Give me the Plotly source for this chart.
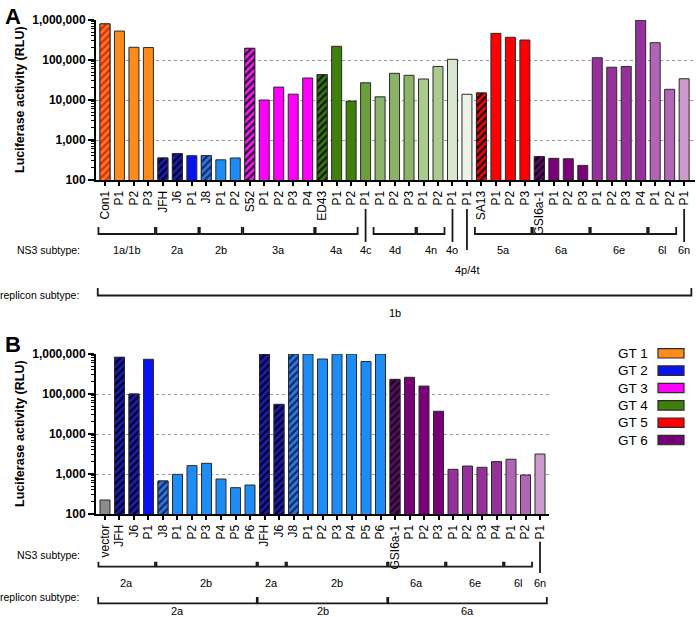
import plotly.graph_objects as go

W, H = 696, 617

# ---------------- data ----------------
a_labels = ["Con1", "P1", "P2", "P3",
            "JFH", "J6", "P1",
            "J8", "P1", "P2",
            "S52", "P1", "P2", "P3", "P4",
            "ED43", "P1", "P2",
            "P1",
            "P1", "P2", "P3",
            "P1", "P2",
            "P1",
            "P1",
            "SA13", "P1", "P2", "P3",
            "GSI6a-1", "P1", "P2", "P3",
            "P1", "P2", "P3", "P4",
            "P1", "P2",
            "P1"]
a_values = [800000, 530000, 208000, 205000,
            355, 454, 405,
            405, 320, 355,
            196000, 10000, 21000, 14000, 35500,
            43000, 220000, 9400,
            27000,
            12000, 46500, 41500,
            33500, 69000,
            104000,
            13900,
            15000, 464000, 370000, 316000,
            383, 348, 340, 232,
            114000, 66000, 69000, 1000000,
            271000, 18500,
            34000]
a_ns3 = [("1a/1b", 4), ("2a", 3), ("2b", 3), ("3a", 5), ("4a", 3), ("4c", 1),
         ("4d", 3), ("4n", 2), ("4o", 1), ("4p/4t", 1), ("5a", 4), ("6a", 4),
         ("6e", 4), ("6l", 2), ("6n", 1)]
a_replicon = [("1b", 41)]

b_labels = ["vector", "JFH", "J6", "P1",
            "J8", "P1", "P2", "P3", "P4", "P5", "P6",
            "JFH", "J6",
            "J8", "P1", "P2", "P3", "P4", "P5", "P6",
            "GSI6a-1", "P1", "P2", "P3",
            "P1", "P2", "P3", "P4",
            "P1", "P2",
            "P1"]
b_values = [224, 826000, 100000, 740000,
            668, 980, 1620, 1850, 750, 455, 530,
            1000000, 55000,
            1000000, 1000000, 750000, 1000000, 1000000, 650000, 1000000,
            232000, 262000, 158000, 37000,
            1310, 1585, 1470, 2040,
            2340, 945,
            3160]
b_ns3 = [("2a", 4), ("2b", 7), ("2a", 2), ("2b", 7), ("6a", 4), ("6e", 4),
         ("6l", 2), ("6n", 1)]
b_replicon = [("2a", 11), ("2b", 9), ("6a", 11)]

tick_vals = [100, 1000, 10000, 100000, 1000000]
tick_text = ["100", "1,000", "10,000", "100,000", "1,000,000"]

legend_labels = ["GT 1", "GT 2", "GT 3", "GT 4", "GT 5", "GT 6"]

# ---------------- styles ----------------
subtype_color = {
    "1a/1b": "#FF8C1A", "2a": "#0A12F0", "2b": "#1E8CF5", "3a": "#FF00FF",
    "4a": "#3F7F0B", "4c": "#6B9E3C", "4d": "#8CB468", "4n": "#AACA8E",
    "4o": "#DAE7CF", "4p/4t": "#EEF3EA", "5a": "#FF0000", "6a": "#7A007A",
    "6e": "#96309A", "6l": "#B066B4", "6n": "#CC9ACC",
}
ref_style = {  # reference strains: (background, stripe colour)
    "Con1": ("#FF7A1C", "#E0280C"), "JFH": ("#1C1CA6", "#000030"),
    "J6": ("#1C1CA6", "#000030"), "J8": ("#3078DC", "#0C2A6A"),
    "S52": ("#F020F0", "#300030"), "ED43": ("#3A7510", "#0C1C00"),
    "SA13": ("#E80A0A", "#200000"), "GSI6a-1": ("#5C0A64", "#140014"),
}
vector_color = "#8C8C8C"
legend_colors = ["#FF8C1A", "#0A12F0", "#FF00FF", "#3F7F0B", "#FF0000", "#750075"]

FONT = "Liberation Sans, Arial, sans-serif"
EDGE = dict(color="#2a2a2a", width=1)


def py(px):
    return 1 - px / H


def px_x(px):
    return px / W


fig = go.Figure()


def add_panel(labels, values, groups, xa, ya):
    subs = []
    for name, n in groups:
        subs += [name] * n
    colors = []
    hx, hy, hbg, hfg = [], [], [], []
    for i, (lab, sub, v) in enumerate(zip(labels, subs, values)):
        if lab == "vector":
            colors.append(vector_color)
        elif lab in ref_style:
            bg, fg = ref_style[lab]
            colors.append(bg)
            hx.append(i); hy.append(v); hbg.append(bg); hfg.append(fg)
        else:
            colors.append(subtype_color[sub])
    # solid bars
    fig.add_trace(go.Bar(
        x=list(range(len(labels))), y=values, xaxis=xa, yaxis=ya,
        marker=dict(color=colors, line=EDGE),
        showlegend=False, hoverinfo="skip"))
    # hatched reference-strain bars drawn on top
    fig.add_trace(go.Bar(
        x=hx, y=hy, xaxis=xa, yaxis=ya,
        marker=dict(color=hbg[0], line=EDGE,
                    pattern=dict(shape="/", bgcolor=hbg, fgcolor=hfg,
                                 fgopacity=1, fillmode="replace",
                                 size=5, solidity=0.45)),
        showlegend=False, hoverinfo="skip"))


add_panel(a_labels, a_values, a_ns3, "x", "y")
add_panel(b_labels, b_values, b_ns3, "x2", "y2")

common_x = dict(showline=True, linecolor="black", linewidth=2, ticks="outside",
                ticklen=4, tickwidth=1.5, tickcolor="black", tickangle=-90,
                tickfont=dict(family=FONT, size=12, color="black"),
                showgrid=False, zeroline=False, tickmode="array", automargin=False)
common_y = dict(type="log", range=[2, 6.0005], showline=True, linecolor="black",
                linewidth=2, ticks="outside", ticklen=6, tickwidth=1.5,
                tickcolor="black", tickmode="array", tickvals=tick_vals,
                ticktext=tick_text, automargin=False,
                tickfont=dict(family=FONT, size=12, color="black", weight="bold"),
                showgrid=True, gridcolor="#9a9a9a", griddash="dot", gridwidth=1,
                zeroline=False,
                minor=dict(ticks="outside", ticklen=3, tickwidth=1,
                           tickcolor="black", dtick="D1", showgrid=False))

fig.update_layout(
    template="none",
    width=W, height=H, margin=dict(l=0, r=0, t=0, b=0, autoexpand=False),
    font=dict(family=FONT, color="black"),
    paper_bgcolor="white", plot_bgcolor="white", bargap=0.31, barmode="overlay",
    xaxis=dict(common_x, domain=[px_x(96), px_x(695)], range=[-0.62, 40.75],
               anchor="y", tickvals=list(range(len(a_labels))), ticktext=a_labels),
    yaxis=dict(common_y, domain=[py(180), py(20)], anchor="x"),
    xaxis2=dict(common_x, domain=[px_x(96), px_x(549)], range=[-0.62, 30.62],
                anchor="y2", tickvals=list(range(len(b_labels))), ticktext=b_labels),
    yaxis2=dict(common_y, domain=[py(514), py(354)], anchor="x2"),
)

shapes = []
annots = []
LW = 1.8
LC = "#1a1a1a"


def text(x, y, s, xref="paper", size=11, xanchor="center", yanchor="middle",
         weight="normal", angle=0):
    annots.append(dict(x=x, y=y, xref=xref, yref="paper", text=s, showarrow=False,
                       xanchor=xanchor, yanchor=yanchor, textangle=angle,
                       font=dict(family=FONT, size=size, color="black", weight=weight)))


def brackets(groups, xref, y_line, y_top, y_label, v_top, v_bot, special=None,
             pad=0.45):
    special = special or {}
    i = 0
    for name, n in groups:
        i0, i1 = i, i + n - 1
        if n == 1:
            bot = v_bot + special.get(name, 0)
            shapes.append(dict(type="line", xref=xref, yref="paper", x0=i0, x1=i0,
                               y0=py(v_top), y1=py(bot),
                               line=dict(color=LC, width=LW)))
            text(i0, py(y_label + special.get(name, 0) * 2.5), name, xref=xref)
        else:
            a, b = i0 - pad, i1 + pad
            shapes.append(dict(type="path", xref=xref, yref="paper",
                               path=f"M {a},{py(y_top)} L {a},{py(y_line)} L {b},{py(y_line)} L {b},{py(y_top)}",
                               line=dict(color=LC, width=LW)))
            text((i0 + i1) / 2, py(y_label), name, xref=xref)
        i += n


def rep_brackets(groups, xref, y_line, y_top, y_label, pad=0.5):
    i = 0
    for name, n in groups:
        a, b = i - pad, i + n - 1 + pad
        shapes.append(dict(type="path", xref=xref, yref="paper",
                           path=f"M {a},{py(y_top)} L {a},{py(y_line)} L {b},{py(y_line)} L {b},{py(y_top)}",
                           line=dict(color=LC, width=LW)))
        text(i + (n - 1) / 2, py(y_label), name, xref=xref)
        i += n


# Panel A annotations
brackets(a_ns3, "x", 234, 227, 250, 209, 242, special={"4p/4t": 8})
rep_brackets(a_replicon, "x", 295.5, 288, 312.5)
text(px_x(82), py(250), "NS3 subtype:", size=10.5, xanchor="right")
text(px_x(81), py(295), "replicon subtype:", size=10.5, xanchor="right")
text(px_x(20), py(100), "Luciferase activity (RLU)", size=12.5, weight="bold", angle=-90)
text(px_x(3), py(2), "A", size=22, weight="bold", xanchor="left", yanchor="top")

# Panel B annotations
brackets(b_ns3, "x2", 566.7, 561.7, 583, 541.7, 573)
rep_brackets(b_replicon, "x2", 603.3, 597, 610.5, pad=0.47)
text(px_x(82), py(555), "NS3 subtype:", size=10.5, xanchor="right")
text(px_x(81), py(597), "replicon subtype:", size=10.5, xanchor="right")
text(px_x(20), py(434), "Luciferase activity (RLU)", size=12.5, weight="bold", angle=-90)
text(px_x(3), py(330), "B", size=22, weight="bold", xanchor="left", yanchor="top")

# Legend (panel B)
for k, (lab, col) in enumerate(zip(legend_labels, legend_colors)):
    yc = 353.3 + k * 17.35
    text(px_x(650), py(yc), lab, size=13.5, xanchor="right")
    shapes.append(dict(type="rect", xref="paper", yref="paper",
                       x0=px_x(658), x1=px_x(684), y0=py(yc - 4.7), y1=py(yc + 4.7),
                       fillcolor=col, line=dict(color="#2a2a2a", width=1.2)))

fig.update_layout(shapes=shapes, annotations=annots)
fig.write_html("out.html", config={"displayModeBar": False},
               post_script="document.body.style.margin='0';document.body.style.padding='0';")
